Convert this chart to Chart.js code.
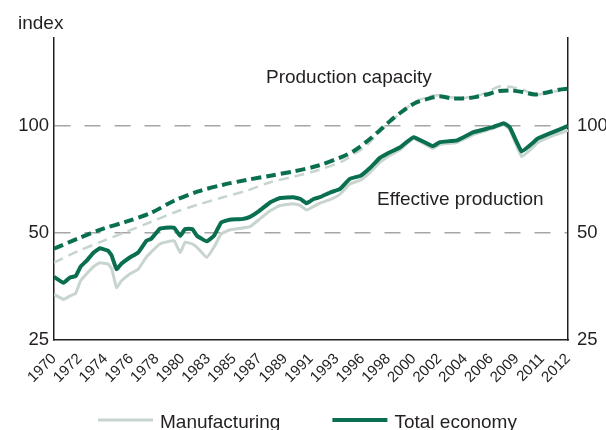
<!DOCTYPE html>
<html>
<head>
<meta charset="utf-8">
<script src="https://cdn.jsdelivr.net/npm/chart.js@4.4.0/dist/chart.umd.min.js"></script>
<style>
    html, body { margin: 0; padding: 0; background: #fff; }
</style>
</head>
<body>
<canvas id="grafico" width="606" height="430"></canvas>
<script>
// ========== DADOS ==========

const rotulosAnos = ["1970", "1972", "1974", "1976", "1978", "1980", "1983", "1985", "1987", "1989", "1991",
    "1993", "1996", "1998", "2000", "2002", "2004", "2006", "2009", "2011", "2012"];
const xMin = 1970;
const xMax = 2012.75;
const ticksY = [25, 50, 100];

// produção efetiva (total e indústria)
const anosProducao = [1970.0, 1970.8, 1971.3, 1971.8, 1972.2, 1972.7, 1973.3, 1973.8, 1974.5, 1974.8,
    1975.2, 1975.6, 1976.3, 1977.0, 1977.7, 1978.1, 1978.8, 1979.6, 1980.0, 1980.5,
    1980.9, 1981.5, 1981.9, 1982.7, 1983.3, 1983.9, 1984.6, 1985.6, 1986.3, 1987.1,
    1988.0, 1988.8, 1989.9, 1990.5, 1991.0, 1991.6, 1992.1, 1993.0, 1993.8, 1994.6,
    1995.5, 1996.3, 1997.1, 1997.7, 1998.8, 1999.9, 2001.5, 2002.1, 2003.5, 2004.9,
    2006.5, 2007.4, 2007.9, 2008.9, 2009.9, 2010.2, 2011.5, 2012.75];
const producaoTotal = [37.6, 36.2, 37.4, 37.8, 40.1, 41.7, 44.0, 45.2, 44.5, 43.1,
    39.5, 40.9, 42.6, 44.0, 47.5, 48.1, 51.3, 51.7, 51.6, 49.0,
    51.2, 51.2, 49.0, 47.3, 49.0, 53.4, 54.4, 54.6, 55.4, 57.7,
    60.9, 62.6, 62.9, 62.2, 60.5, 62.2, 62.9, 64.9, 66.4, 70.8,
    72.3, 76.1, 81.1, 83.3, 86.9, 92.7, 87.5, 89.8, 90.8, 95.8,
    98.9, 101.5, 98.9, 84.5, 89.8, 91.8, 95.8, 99.7];
const producaoIndustria = [33.6, 32.5, 33.2, 33.8, 36.6, 38.3, 40.2, 41.2, 40.8, 39.6,
    35.1, 36.6, 38.3, 39.5, 42.8, 44.2, 46.5, 47.3, 47.5, 44.0,
    47.0, 46.5, 45.5, 42.6, 45.5, 49.6, 50.9, 51.5, 52.0, 54.6,
    57.7, 59.6, 60.3, 59.6, 57.9, 59.3, 60.5, 62.0, 64.2, 68.5,
    70.3, 73.9, 78.8, 81.5, 85.6, 91.9, 86.2, 88.4, 89.6, 94.3,
    98.1, 100.6, 97.4, 81.8, 87.3, 89.5, 93.7, 96.8];

// capacidade de produção
const anosCapacidade = [1970, 1972, 1974, 1976, 1978, 1980, 1982, 1984, 1986, 1988,
    1990, 1992, 1994, 1995, 1996, 1997, 1998, 1999, 2000, 2001,
    2002, 2003, 2004, 2005, 2006, 2007, 2008, 2009, 2010, 2011,
    2012, 2012.75];
const capacidadeTotal = [45.1, 48.2, 51.2, 53.7, 56.7, 61.5, 65.3, 68.1, 70.3, 72.3,
    74.4, 77.2, 81.8, 85.1, 90.1, 96.2, 103.3, 109.7, 115.5, 118.6,
    120.7, 119.3, 119.1, 120.1, 122.2, 124.9, 125.4, 124.1, 122.2, 123.8,
    126.0, 126.8];
const capacidadeIndustria = [41.2, 44.4, 47.3, 50.3, 53.5, 57.0, 60.0, 62.8, 65.6, 69.3,
    71.9, 75.0, 79.4, 83.3, 87.8, 95.8, 102.6, 109.5, 116.3, 120.1,
    121.5, 120.1, 119.5, 120.7, 123.8, 128.7, 128.2, 126.0, 122.2, 123.3,
    125.4, 126.8];

const rotuloEixo = "index";
const rotuloCapacidade = "Production capacity";
const rotuloProducao = "Effective production";

// ========== ESTILO ==========

const verde = "#0a6f50";
const cinza = "#c8d5ce";
const corTexto = "#231f20";
const fonte = "'Liberation Sans', Arial, sans-serif";

function pontos(anos, valores) {
    return anos.map((a, i) => ({ x: a, y: valores[i] }));
}

// textos soltos + legenda desenhada à mão
const textos = {
    id: "textos",
    afterDraw(chart) {
        const ctx = chart.ctx;
        const x = chart.scales.x;
        const y = chart.scales.y;
        ctx.save();
        ctx.fillStyle = corTexto;
        ctx.font = "19px " + fonte;
        ctx.textBaseline = "alphabetic";
        ctx.textAlign = "left";
        ctx.fillText(rotuloEixo, 18, 29);
        ctx.fillText(rotuloCapacidade, x.getPixelForValue(1987.63), y.getPixelForValue(131.3));
        ctx.fillText(rotuloProducao, x.getPixelForValue(1996.87), y.getPixelForValue(59.9));

        // legenda: Manufacturing, Total economy
        const itens = [chart.data.datasets[2], chart.data.datasets[0]];
        let px = 98;
        itens.forEach(ds => {
            ctx.strokeStyle = ds.borderColor;
            ctx.lineWidth = ds.borderWidth;
            ctx.beginPath();
            ctx.moveTo(px, 420);
            ctx.lineTo(px + 55, 420);
            ctx.stroke();
            ctx.fillText(ds.label, px + 62, 428);
            px += 62 + ctx.measureText(ds.label).width + 52;
        });
        ctx.restore();
    }
};

const eixoY = (posicao) => ({
    type: "logarithmic",
    position: posicao,
    min: 25,
    max: 176,
    afterBuildTicks: s => { s.ticks = ticksY.map(v => ({ value: v })); },
    afterFit: s => { s.width = posicao === "left" ? 54 : 38; },
    ticks: {
        callback: v => String(v),
        font: { size: 18.5, family: fonte },
        color: corTexto,
        padding: posicao === "left" ? 5 : 9
    },
    grid: {
        display: posicao === "left",
        drawTicks: false,
        color: c => (c.tick && c.tick.value === 25) ? "rgba(0,0,0,0)" : "#a6a6a6",
        lineWidth: 1.5
    },
    border: { display: true, color: corTexto, width: 1.5, dash: [16, 14] }
});

const ctx = document.getElementById("grafico").getContext("2d");
window.chartCapacidade = new Chart(ctx, {
    type: "line",
    data: {
        datasets: [
            {
                label: "Total economy",
                data: pontos(anosProducao, producaoTotal),
                borderColor: verde,
                borderWidth: 4,
                tension: 0.1
            },
            {
                label: "Total economy capacity",
                data: pontos(anosCapacidade, capacidadeTotal),
                borderColor: verde,
                borderWidth: 4,
                borderDash: [10, 5],
                tension: 0.3
            },
            {
                label: "Manufacturing",
                data: pontos(anosProducao, producaoIndustria),
                borderColor: cinza,
                borderWidth: 3,
                tension: 0.1
            },
            {
                label: "Manufacturing capacity",
                data: pontos(anosCapacidade, capacidadeIndustria),
                borderColor: cinza,
                borderWidth: 2.5,
                borderDash: [10, 6],
                tension: 0.3
            }
        ]
    },
    options: {
        responsive: false,
        animation: false,
        layout: { padding: { top: 38, left: 0, right: 0, bottom: 0 } },
        elements: { point: { radius: 0 } },
        plugins: {
            legend: { display: false },
            tooltip: { enabled: false }
        },
        scales: {
            x: {
                type: "linear",
                min: xMin,
                max: xMax,
                afterBuildTicks: s => {
                    const n = rotulosAnos.length;
                    s.ticks = rotulosAnos.map((r, i) => ({ value: xMin + i * (xMax - xMin) / (n - 1) }));
                },
                afterFit: s => { s.height = 90; },
                ticks: {
                    autoSkip: false,
                    minRotation: 45,
                    maxRotation: 45,
                    padding: 2,
                    callback: (v, i) => rotulosAnos[i],
                    font: { size: 15, family: fonte },
                    color: corTexto
                },
                grid: { display: false },
                border: { display: true, color: corTexto, width: 1.5 }
            },
            y: eixoY("left"),
            y2: eixoY("right")
        }
    },
    plugins: [textos]
});
</script>
</body>
</html>
